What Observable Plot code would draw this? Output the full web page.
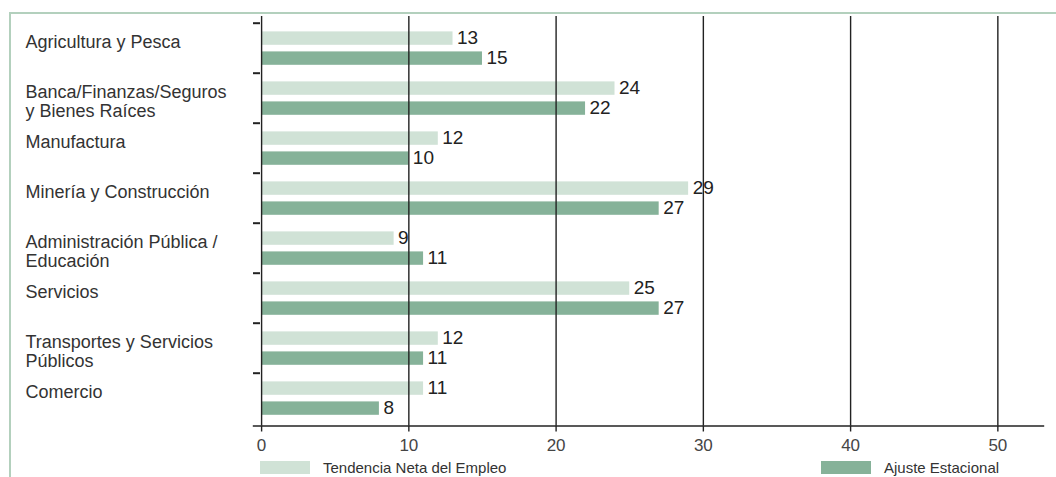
<!DOCTYPE html>
<html>
<head>
<meta charset="utf-8">
<script src="https://cdn.jsdelivr.net/npm/d3@7"></script>
<script src="https://cdn.jsdelivr.net/npm/@observablehq/plot@0.6"></script>
<style>
  html, body { margin: 0; padding: 0; background: #fff; }
  #wrap { position: relative; width: 1056px; height: 477px; overflow: hidden; font-family: "Liberation Sans", Arial, sans-serif; }
  #box { position: absolute; left: 9px; top: 12px; right: -5px; bottom: -5px; border-top: 2px solid #b3d0bd; border-left: 2px solid #b3d0bd; }
  #chart { position: absolute; left: 0; top: 0; }
  .key { position: absolute; top: 459px; display: flex; align-items: center; font-size: 15px; color: #333; }
  .key span.sw { display: inline-block; width: 50px; height: 13px; margin-right: 13px; }
</style>
</head>
<body>
<div id="wrap">
  <div id="box"></div>
  <div id="chart"></div>
  <div class="key" style="left:260px"><span class="sw" style="background:#d0e2d6"></span><span id="k1"></span></div>
  <div class="key" style="left:821px"><span class="sw" style="background:#86b299"></span><span id="k2"></span></div>
</div>
<script>
// Sectors, top to bottom (line breaks are part of the label)
const sectors = [
  "Agricultura y Pesca",
  "Banca/Finanzas/Seguros\ny Bienes Raíces",
  "Manufactura",
  "Minería y Construcción",
  "Administración Pública /\nEducación",
  "Servicios",
  "Transportes y Servicios\nPúblicos",
  "Comercio"
];
const netTrend = [13, 24, 12, 29, 9, 25, 12, 11];       // Tendencia Neta del Empleo
const seasonalAdj = [15, 22, 10, 27, 11, 27, 11, 8];     // Ajuste Estacional
const xTicks = [0, 10, 20, 30, 40, 50];
const seriesNames = ["Tendencia Neta del Empleo", "Ajuste Estacional"];

const lightFill = "#d0e2d6";
const darkFill = "#86b299";
const ink = "#222";

const light = sectors.map((s, i) => ({sector: s, value: netTrend[i]}));
const dark = sectors.map((s, i) => ({sector: s, value: seasonalAdj[i]}));

const chart = Plot.plot({
  width: 1056,
  height: 456,
  marginLeft: 253,
  marginRight: 13,
  marginTop: 16,
  marginBottom: 30.5,
  style: {fontFamily: "'Liberation Sans', Arial, sans-serif", background: "transparent"},
  x: {domain: [-0.55, 53.1], axis: null},
  y: {domain: sectors, padding: 0, insetTop: 4.3, axis: null},
  marks: [
    // paired bars inside each sector band
    Plot.barX(light, {y: "sector", x: "value", fill: lightFill, insetTop: 8.4, insetBottom: 28.2}),
    Plot.barX(dark, {y: "sector", x: "value", fill: darkFill, insetTop: 28.4, insetBottom: 8.2}),
    // value labels
    Plot.text(light, {y: "sector", x: "value", text: "value", textAnchor: "start", dx: 4, dy: -10.4, fontSize: 19, fill: "#222"}),
    Plot.text(dark, {y: "sector", x: "value", text: "value", textAnchor: "start", dx: 4, dy: 9.6, fontSize: 19, fill: "#222"}),
    // vertical grid over the bars
    Plot.ruleX(xTicks, {stroke: ink, strokeWidth: 1.4}),
    Plot.frame({anchor: "bottom", stroke: ink, strokeWidth: 1.4}),
    // x axis
    Plot.axisX({ticks: xTicks, label: null, tickSize: 6, tickPadding: 7, fontSize: 17, color: "#454545", stroke: ink, strokeWidth: 1.4}),
    // inward ticks at the top of each sector band
    Plot.axisY({tickSize: -7, tickFormat: () => "", label: null, dy: -25.3, strokeWidth: 2, stroke: ink}),
    // sector labels
    Plot.text(sectors, {y: d => d, text: d => d, frameAnchor: "left", textAnchor: "start", lineAnchor: "top", dx: -228, dy: -14, fontSize: 18, lineHeight: 1.05, fill: "#333"})
  ]
});
document.getElementById("chart").appendChild(chart);
document.getElementById("k1").textContent = seriesNames[0];
document.getElementById("k2").textContent = seriesNames[1];
</script>
</body>
</html>
